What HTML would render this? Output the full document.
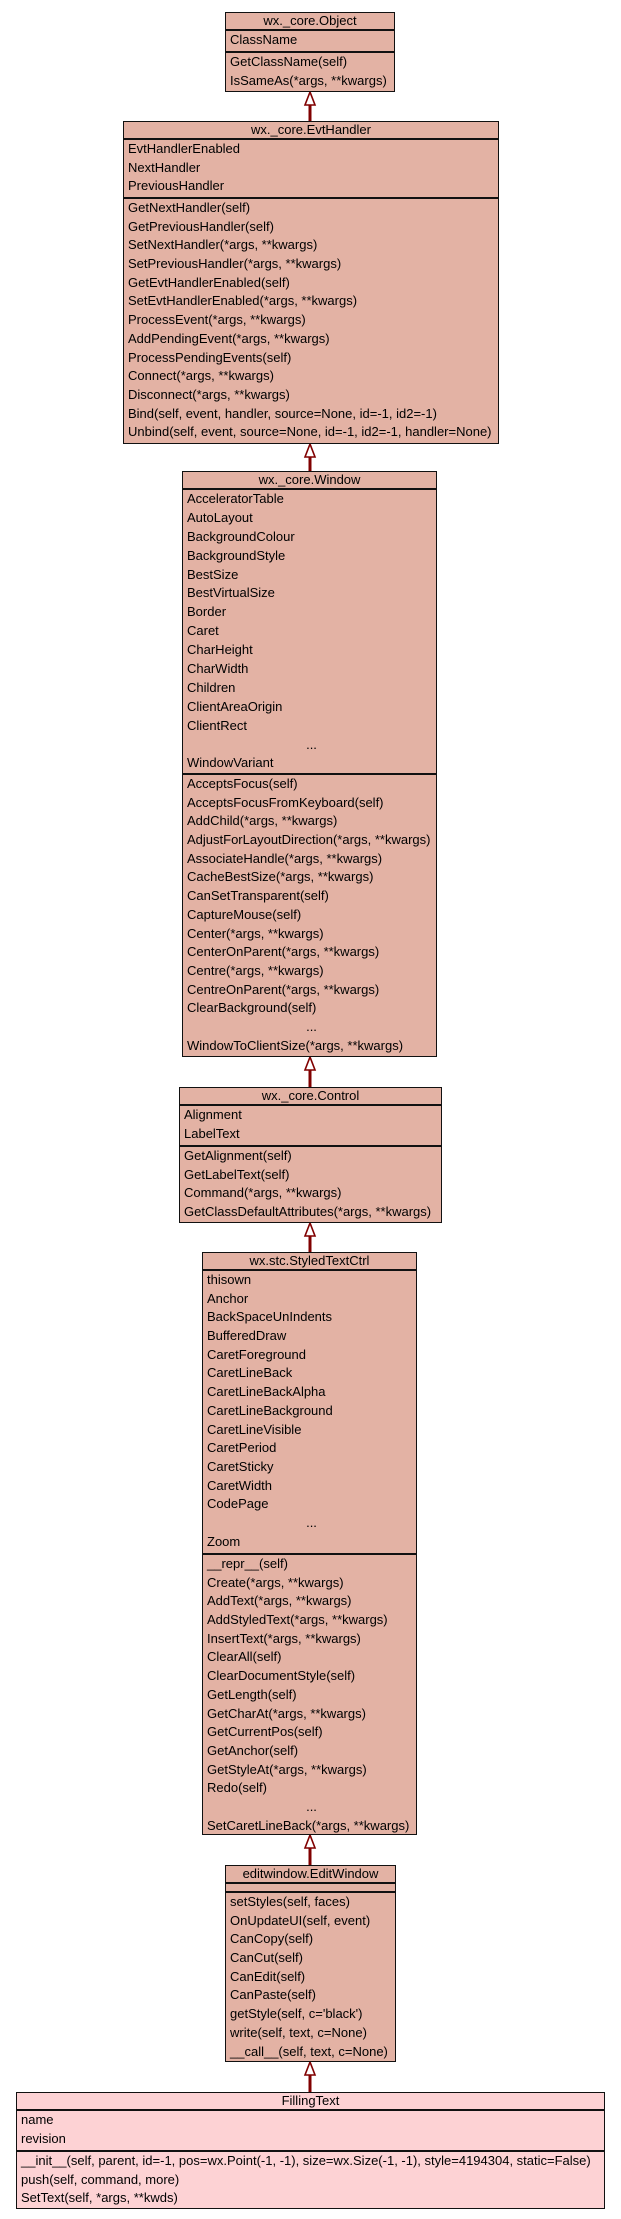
<!DOCTYPE html>
<html><head><meta charset="utf-8"><style>
html,body{margin:0;padding:0;background:#fff;}
body{width:621px;height:2219px;position:relative;overflow:hidden;font-family:"Liberation Sans",Arial,sans-serif;font-size:13px;color:#000;}
.b{position:absolute;box-sizing:border-box;border:1.5px solid #111;background:#e3b2a4;}
.b.f{background:#fdd2d4;}
.s{position:absolute;left:0;right:0;box-sizing:border-box;padding-left:4px;white-space:nowrap;overflow:hidden;}
.s.t{text-align:center;padding-left:0;line-height:16px;}
.s.d{border-top:2px solid #111;}
.r{height:18.7px;line-height:18.7px;}
.c{text-align:center;}
</style></head><body>

<svg width="621" height="2219" style="position:absolute;left:0;top:0" xmlns="http://www.w3.org/2000/svg">
<g stroke="#800000" fill="#fff" stroke-width="1.6">
<line x1="310" y1="105" x2="310" y2="121" stroke-width="3"/><polygon points="310,92 305,105 315,105"/>
<line x1="310" y1="457" x2="310" y2="471" stroke-width="3"/><polygon points="310,444 305,457 315,457"/>
<line x1="310" y1="1070" x2="310" y2="1087" stroke-width="3"/><polygon points="310,1057 305,1070 315,1070"/>
<line x1="310" y1="1236" x2="310" y2="1252" stroke-width="3"/><polygon points="310,1223 305,1236 315,1236"/>
<line x1="310" y1="1848" x2="310" y2="1865" stroke-width="3"/><polygon points="310,1835 305,1848 315,1848"/>
<line x1="310" y1="2075" x2="310" y2="2092" stroke-width="3"/><polygon points="310,2062 305,2075 315,2075"/>
</g></svg>

<!-- Object -->
<div class="b" style="left:225px;top:12px;width:170px;height:80px;">
<div class="s t" style="top:0;height:16px;">wx._core.Object</div>
<div class="s d" style="top:16px;height:22px;"><div class="r">ClassName</div></div>
<div class="s d" style="top:38px;height:40px;"><div class="r">GetClassName(self)</div><div class="r">IsSameAs(*args, **kwargs)</div></div>
</div>

<!-- EvtHandler -->
<div class="b" style="left:123px;top:121px;width:376px;height:323px;">
<div class="s t" style="top:0;height:16px;">wx._core.EvtHandler</div>
<div class="s d" style="top:16px;height:59px;">
<div class="r">EvtHandlerEnabled</div><div class="r">NextHandler</div><div class="r">PreviousHandler</div></div>
<div class="s d" style="top:75px;height:245px;">
<div class="r">GetNextHandler(self)</div><div class="r">GetPreviousHandler(self)</div><div class="r">SetNextHandler(*args, **kwargs)</div><div class="r">SetPreviousHandler(*args, **kwargs)</div><div class="r">GetEvtHandlerEnabled(self)</div><div class="r">SetEvtHandlerEnabled(*args, **kwargs)</div><div class="r">ProcessEvent(*args, **kwargs)</div><div class="r">AddPendingEvent(*args, **kwargs)</div><div class="r">ProcessPendingEvents(self)</div><div class="r">Connect(*args, **kwargs)</div><div class="r">Disconnect(*args, **kwargs)</div><div class="r">Bind(self, event, handler, source=None, id=-1, id2=-1)</div><div class="r">Unbind(self, event, source=None, id=-1, id2=-1, handler=None)</div></div>
</div>

<!-- Window -->
<div class="b" style="left:182px;top:471px;width:255px;height:586px;">
<div class="s t" style="top:0;height:16px;">wx._core.Window</div>
<div class="s d" style="top:16px;height:285px;">
<div class="r" style="height:18.9px;line-height:18.9px">AcceleratorTable</div><div class="r" style="height:18.9px;line-height:18.9px">AutoLayout</div><div class="r" style="height:18.9px;line-height:18.9px">BackgroundColour</div><div class="r" style="height:18.9px;line-height:18.9px">BackgroundStyle</div><div class="r" style="height:18.9px;line-height:18.9px">BestSize</div><div class="r" style="height:18.9px;line-height:18.9px">BestVirtualSize</div><div class="r" style="height:18.9px;line-height:18.9px">Border</div><div class="r" style="height:18.9px;line-height:18.9px">Caret</div><div class="r" style="height:18.9px;line-height:18.9px">CharHeight</div><div class="r" style="height:18.9px;line-height:18.9px">CharWidth</div><div class="r" style="height:18.9px;line-height:18.9px">Children</div><div class="r" style="height:18.9px;line-height:18.9px">ClientAreaOrigin</div><div class="r" style="height:18.9px;line-height:18.9px">ClientRect</div><div class="r c" style="height:18.9px;line-height:18.9px">...</div><div class="r" style="height:18.9px;line-height:18.9px">WindowVariant</div></div>
<div class="s d" style="top:301px;height:283px;">
<div class="r">AcceptsFocus(self)</div><div class="r">AcceptsFocusFromKeyboard(self)</div><div class="r">AddChild(*args, **kwargs)</div><div class="r">AdjustForLayoutDirection(*args, **kwargs)</div><div class="r">AssociateHandle(*args, **kwargs)</div><div class="r">CacheBestSize(*args, **kwargs)</div><div class="r">CanSetTransparent(self)</div><div class="r">CaptureMouse(self)</div><div class="r">Center(*args, **kwargs)</div><div class="r">CenterOnParent(*args, **kwargs)</div><div class="r">Centre(*args, **kwargs)</div><div class="r">CentreOnParent(*args, **kwargs)</div><div class="r">ClearBackground(self)</div><div class="r c">...</div><div class="r">WindowToClientSize(*args, **kwargs)</div></div>
</div>

<!-- Control -->
<div class="b" style="left:179px;top:1087px;width:263px;height:136px;">
<div class="s t" style="top:0;height:16px;">wx._core.Control</div>
<div class="s d" style="top:16px;height:41px;"><div class="r">Alignment</div><div class="r">LabelText</div></div>
<div class="s d" style="top:57px;height:77px;"><div class="r">GetAlignment(self)</div><div class="r">GetLabelText(self)</div><div class="r">Command(*args, **kwargs)</div><div class="r">GetClassDefaultAttributes(*args, **kwargs)</div></div>
</div>

<!-- StyledTextCtrl -->
<div class="b" style="left:202px;top:1252px;width:215px;height:583px;">
<div class="s t" style="top:0;height:16px;">wx.stc.StyledTextCtrl</div>
<div class="s d" style="top:16px;height:284px;">
<div class="r">thisown</div><div class="r">Anchor</div><div class="r">BackSpaceUnIndents</div><div class="r">BufferedDraw</div><div class="r">CaretForeground</div><div class="r">CaretLineBack</div><div class="r">CaretLineBackAlpha</div><div class="r">CaretLineBackground</div><div class="r">CaretLineVisible</div><div class="r">CaretPeriod</div><div class="r">CaretSticky</div><div class="r">CaretWidth</div><div class="r">CodePage</div><div class="r c">...</div><div class="r">Zoom</div></div>
<div class="s d" style="top:300px;height:281px;">
<div class="r">__repr__(self)</div><div class="r">Create(*args, **kwargs)</div><div class="r">AddText(*args, **kwargs)</div><div class="r">AddStyledText(*args, **kwargs)</div><div class="r">InsertText(*args, **kwargs)</div><div class="r">ClearAll(self)</div><div class="r">ClearDocumentStyle(self)</div><div class="r">GetLength(self)</div><div class="r">GetCharAt(*args, **kwargs)</div><div class="r">GetCurrentPos(self)</div><div class="r">GetAnchor(self)</div><div class="r">GetStyleAt(*args, **kwargs)</div><div class="r">Redo(self)</div><div class="r c">...</div><div class="r">SetCaretLineBack(*args, **kwargs)</div></div>
</div>

<!-- EditWindow -->
<div class="b" style="left:225px;top:1865px;width:171px;height:197px;">
<div class="s t" style="top:0;height:16px;">editwindow.EditWindow</div>
<div class="s d" style="top:16px;height:9px;"></div>
<div class="s d" style="top:25px;height:170px;">
<div class="r">setStyles(self, faces)</div><div class="r">OnUpdateUI(self, event)</div><div class="r">CanCopy(self)</div><div class="r">CanCut(self)</div><div class="r">CanEdit(self)</div><div class="r">CanPaste(self)</div><div class="r">getStyle(self, c='black')</div><div class="r">write(self, text, c=None)</div><div class="r">__call__(self, text, c=None)</div></div>
</div>

<!-- FillingText -->
<div class="b f" style="left:16px;top:2092px;width:589px;height:117px;">
<div class="s t" style="top:0;height:16px;">FillingText</div>
<div class="s d" style="top:16px;height:41px;"><div class="r">name</div><div class="r">revision</div></div>
<div class="s d" style="top:57px;height:58px;">
<div class="r">__init__(self, parent, id=-1, pos=wx.Point(-1, -1), size=wx.Size(-1, -1), style=4194304, static=False)</div><div class="r">push(self, command, more)</div><div class="r">SetText(self, *args, **kwds)</div></div>
</div>

</body></html>
